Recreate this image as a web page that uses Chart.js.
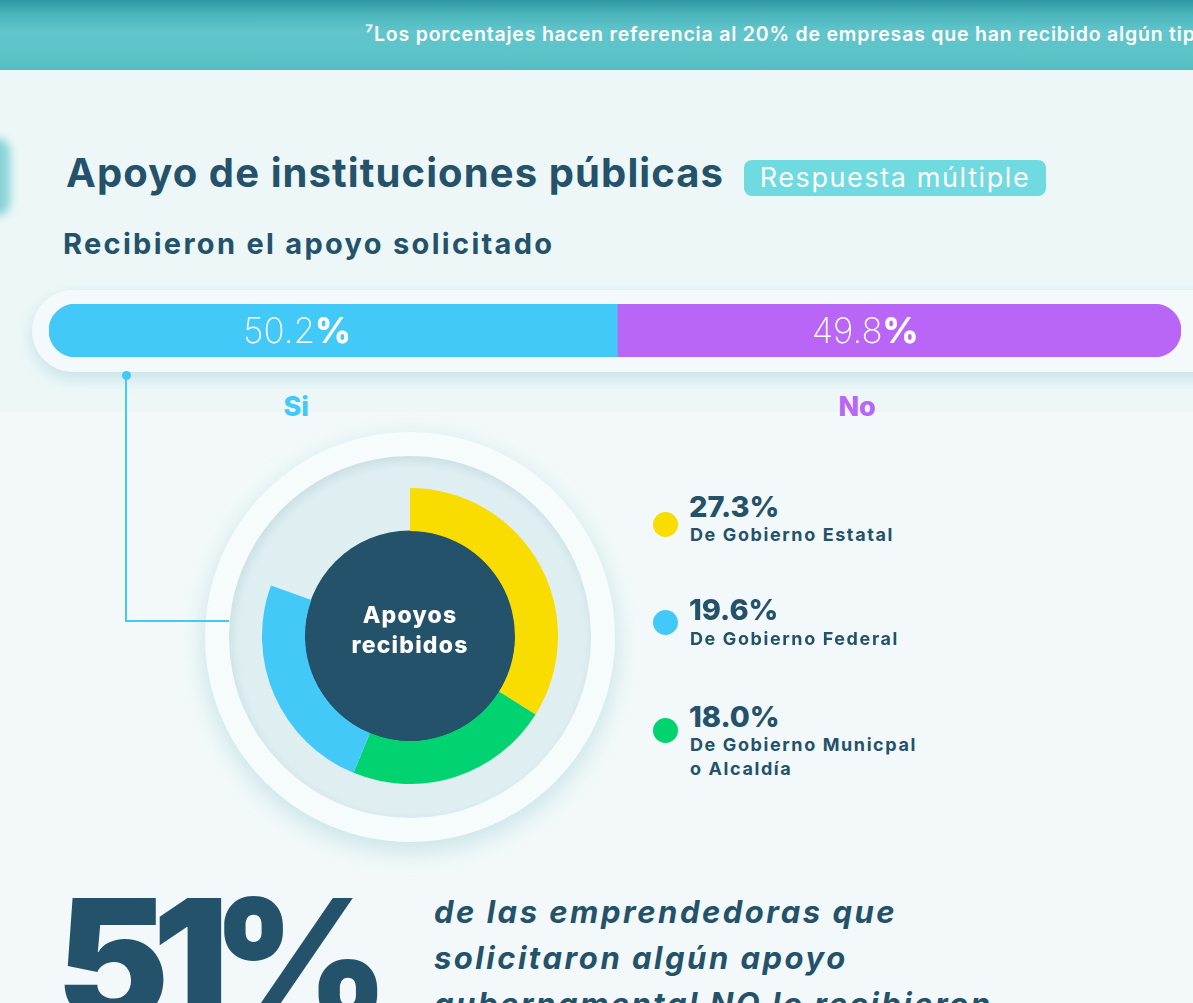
<!DOCTYPE html>
<html lang="es">
<head>
<meta charset="utf-8">
<script src="https://cdn.jsdelivr.net/npm/chart.js@4.4.1/dist/chart.umd.min.js"></script>
<style>
  html, body { margin:0; padding:0; }
  body { width:1193px; height:1003px; overflow:hidden; position:relative; background:#f3f9fa; font-family:"Inter","Noto Sans",sans-serif; color:#23526a; }
  .abs { position:absolute; white-space:nowrap; line-height:1; }
  #band { position:absolute; left:0; top:0; width:1193px; height:70px;
    background:linear-gradient(180deg,#2e97a1 0%,#4db6bd 22%,#60c6cb 45%,#5cc3c8 80%,#54bdc3 100%); }
  #upper { position:absolute; left:0; top:70px; width:1193px; height:342px; background:#edf7f8; }
  #tab { position:absolute; left:-34px; top:138px; width:44px; height:78px; background:#86d2d6; border-radius:14px; filter:blur(5px); }
  #pill { position:absolute; left:32px; top:290px; width:1220px; height:82px; border-radius:41px; background:#f4fafb;
    box-shadow:0 6px 16px rgba(90,175,185,0.28); }
  #outerRing { position:absolute; left:205px; top:432px; width:410px; height:410px; border-radius:50%; background:#f6fbfc;
    box-shadow:0 8px 26px rgba(80,170,180,0.28); }
  #innerDisk { position:absolute; left:229px; top:456px; width:362px; height:362px; border-radius:50%;
    background:radial-gradient(circle at 50% 52%, #e1f0f2 0%, #deeef1 70%, #d2e6ea 100%);
    box-shadow:inset 2px 4px 10px rgba(60,110,120,0.12); }
  #barWrap { position:absolute; left:49px; top:304px; width:1132px; height:53px; }
  #donutWrap { position:absolute; left:262px; top:488px; width:296px; height:296px; }
  .vline { position:absolute; background:#42c9f7; }
</style>
</head>
<body>
<div id="band"></div>
<div id="upper"></div>
<div id="tab"></div>
<div class="abs" id="note" style="left:365px; top:25px; font-size:19.5px; font-weight:600; color:#ffffff; letter-spacing:0.8px;">⁷Los porcentajes hacen referencia al 20% de empresas que han recibido algún tipo de apoyo</div>

<div class="abs" id="title" style="left:66px; top:153px; font-size:40px; font-weight:700; letter-spacing:1.1px;">Apoyo de instituciones públicas</div>
<div class="abs" id="badge" style="left:744px; top:160px; width:302px; height:36px; border-radius:8px; background:#6fdadf; color:#fff; font-size:27px; font-weight:400; line-height:36px; text-align:center; letter-spacing:1.6px;">Respuesta múltiple</div>
<div class="abs" id="subtitle" style="left:63px; top:229px; font-size:29px; font-weight:700; letter-spacing:2.3px;">Recibieron el apoyo solicitado</div>

<div id="pill"></div>
<div id="barWrap"><canvas id="bar" width="1132" height="53"></canvas></div>
<div id="barLabels"></div>

<div id="outerRing"></div>
<div id="innerDisk"></div>

<div class="vline" style="left:122px; top:371px; width:9px; height:9px; border-radius:50%;"></div>
<div class="vline" style="left:125px; top:376px; width:2px; height:246px;"></div>
<div class="vline" style="left:125px; top:620px; width:104px; height:2px;"></div>

<div id="donutWrap"><canvas id="donut" width="296" height="296"></canvas></div>
<div class="abs" style="left:310px; top:600px; width:200px; text-align:center; color:#fff; font-size:23px; font-weight:800; line-height:30px; white-space:normal; letter-spacing:1.2px;">Apoyos<br>recibidos</div>

<div id="legend"></div>

<div class="abs" id="big" style="left:56px; top:875px; font-size:170px; font-weight:900; letter-spacing:-17px;">51%</div>
<div class="abs" id="quote" style="left:434px; top:889px; font-size:31px; font-weight:700; font-style:italic; line-height:46px; letter-spacing:2.5px;">de las emprendedoras que<br>solicitaron algún apoyo<br>gubernamental NO lo recibieron</div>

<script>
// ---- data ----
const barCategories = ['Si', 'No'];
const barValues = [50.2, 49.8];
const barColors = ['#42c9f7', '#b966f7'];

const donutLabels = ['De Gobierno Estatal', 'De Gobierno Municpal\no Alcaldía', 'De Gobierno Federal'];
const donutValues = [27.3, 18.0, 19.6];
const donutColors = ['#f9dc00', '#00d36f', '#42c9f7'];
const legendOrder = [0, 2, 1];

// ---- stacked bar ----
const barChart = new Chart(document.getElementById('bar'), {
  type: 'bar',
  data: {
    labels: [''],
    datasets: barValues.map((v, i) => ({
      label: barCategories[i],
      data: [v],
      backgroundColor: barColors[i],
      borderWidth: 0,
      borderSkipped: false,
      borderRadius: i === 0 ? {topLeft: 27, bottomLeft: 27, topRight: 0, bottomRight: 0}
                            : {topLeft: 0, bottomLeft: 0, topRight: 27, bottomRight: 27},
      barPercentage: 1,
      categoryPercentage: 1
    }))
  },
  options: {
    indexAxis: 'y',
    responsive: false,
    animation: false,
    events: [],
    layout: { padding: 0 },
    plugins: { legend: { display: false }, tooltip: { enabled: false } },
    scales: {
      x: { stacked: true, min: 0, max: 100, display: false },
      y: { stacked: true, display: false }
    }
  }
});

// labels for bar, positioned from chart elements
(function () {
  const wrap = document.getElementById('barLabels');
  const offsets = [-36, -34];
  const catOffsets = [-37, -42];
  barValues.forEach((v, i) => {
    const el = barChart.getDatasetMeta(i).data[0];
    const cx = 49 + (el.x + el.base) / 2;
    const t = document.createElement('div');
    t.className = 'abs';
    t.style.cssText = `left:${cx + offsets[i] - 100}px; top:313px; width:200px; text-align:center; color:#fff; font-size:35px;`;
    t.innerHTML = `<span style="font-weight:200">${v.toFixed(1)}</span><span style="font-weight:800">%</span>`;
    wrap.appendChild(t);
    const c = document.createElement('div');
    c.className = 'abs';
    c.style.cssText = `left:${cx + catOffsets[i] - 60}px; top:393px; width:120px; text-align:center; color:${barColors[i]}; font-size:27px; font-weight:800;`;
    c.textContent = barCategories[i];
    wrap.appendChild(c);
  });
})();

// ---- doughnut ----
const centerDisk = {
  id: 'centerDisk',
  beforeDatasetsDraw(chart) {
    const arc = chart.getDatasetMeta(0).data[0];
    const ctx = chart.ctx;
    ctx.save();
    ctx.beginPath();
    ctx.arc(arc.x, arc.y, arc.innerRadius + 0.5, 0, Math.PI * 2);
    ctx.fillStyle = '#24526a';
    ctx.fill();
    ctx.restore();
  }
};
new Chart(document.getElementById('donut'), {
  type: 'doughnut',
  data: {
    labels: donutLabels,
    datasets: [{ data: donutValues, backgroundColor: donutColors, borderWidth: 0 }]
  },
  options: {
    responsive: false,
    animation: false,
    events: [],
    rotation: 0,
    circumference: 290,
    cutout: 105,
    layout: { padding: 0 },
    plugins: { legend: { display: false }, tooltip: { enabled: false } }
  },
  plugins: [centerDisk]
});

// ---- legend ----
(function () {
  const lg = document.getElementById('legend');
  const dotY = [524, 622, 730];
  const valBase = [517, 620, 727];
  const labBase = [542, 646, 752];
  const VS = 29, LS = 18, LL = 24;
  legendOrder.forEach((idx, k) => {
    const dot = document.createElement('div');
    dot.style.cssText = `position:absolute; left:653px; top:${dotY[k] - 12.5}px; width:25px; height:25px; border-radius:50%; background:${donutColors[idx]};`;
    lg.appendChild(dot);
    const val = document.createElement('div');
    val.className = 'abs';
    val.style.cssText = `left:689px; top:${valBase[k] - 0.863 * VS}px; font-size:${VS}px; font-weight:800;`;
    val.textContent = donutValues[idx].toFixed(1) + '%';
    lg.appendChild(val);
    const lab = document.createElement('div');
    lab.className = 'abs';
    const off = (LL - 1.2109 * LS) / 2 + 0.96875 * LS;
    lab.style.cssText = `left:690px; top:${labBase[k] - off}px; font-size:${LS}px; font-weight:700; line-height:${LL}px; letter-spacing:1.6px;`;
    lab.innerHTML = donutLabels[idx].replace('\n', '<br>');
    lg.appendChild(lab);
  });
})();
</script>
</body>
</html>
